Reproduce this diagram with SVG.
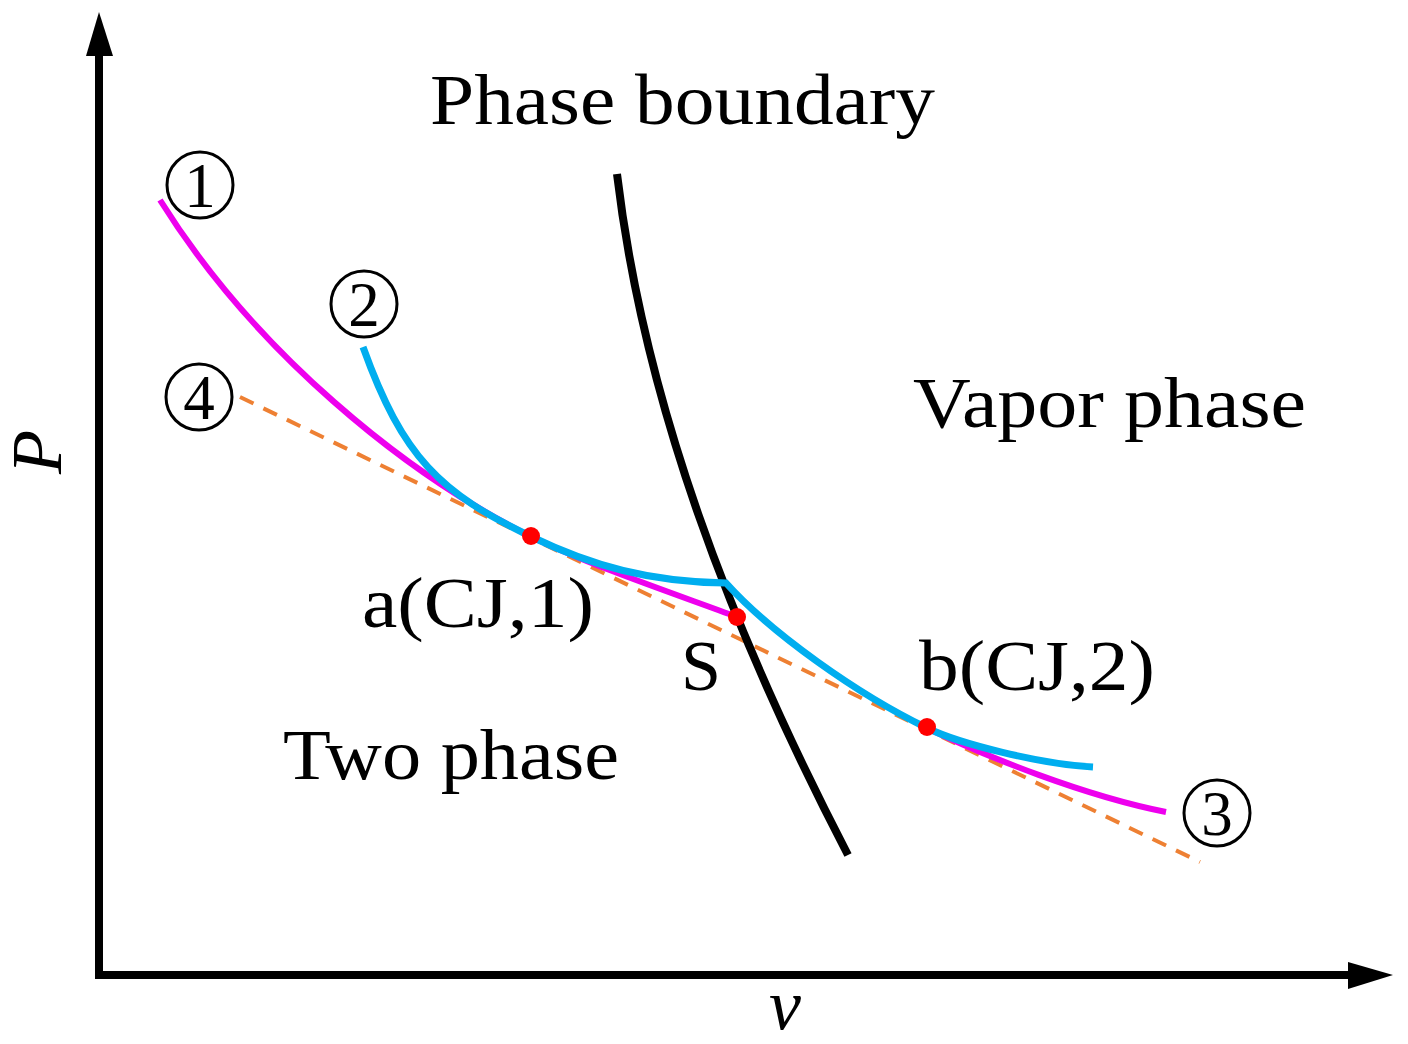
<svg xmlns="http://www.w3.org/2000/svg" width="1408" height="1044" viewBox="0 0 1408 1044">
<style>
.lbl{font-family:"Liberation Serif","Times New Roman",serif;font-size:72px;fill:#000}
.num{font-family:"Liberation Serif","Times New Roman",serif;font-size:63px;fill:#000;text-anchor:middle}
.circ{fill:none;stroke:#000;stroke-width:3}
.curve{fill:none;stroke-linecap:butt;stroke-linejoin:miter}
.mag{stroke:#EE00EE;stroke-width:6}
.cyan{stroke:#00AEEF;stroke-width:7}
.dot{fill:#FF0000}
</style>
<rect width="1408" height="1044" fill="#fff"/>
<g id="axes">
<line x1="99" y1="979" x2="99" y2="54" stroke="#000" stroke-width="8"/>
<polygon points="99,12 86,56 113,56" fill="#000"/>
<line x1="95" y1="975" x2="1350" y2="975" stroke="#000" stroke-width="8"/>
<polygon points="1393,975 1348,962 1348,989" fill="#000"/>
<text class="lbl" font-style="italic" font-size="66" text-anchor="middle" transform="translate(61,452) rotate(-90)">P</text>
<text class="lbl" font-style="italic" font-size="68" text-anchor="middle" x="785" y="1029">v</text>
</g>
<g id="connectors">
<line id="rayleigh" x1="240" y1="397" x2="1200" y2="862" stroke="#EE8033" stroke-width="4" stroke-dasharray="15 11" fill="none"/>
<path id="boundary" class="curve" d="M617,174 C644,401 730,628 848,855" stroke="#000" stroke-width="8"/>
<path id="curve1a" class="curve mag" d="M160,200 C255,352 405,474 532,537 C592,566 675,594 737,617"/>
<path id="curve1b" class="curve mag" d="M927,728 C987,757 1085,796 1166,812"/>
<path id="curve2" class="curve cyan" d="M363,347 C403,458 440,493 532,537 C592,566 650,582 726,583 C771,633 857,694 927,728 C960,744 1040,764 1093,767"/>
</g>
<g id="points">
<circle class="dot" cx="531" cy="536" r="9"/>
<circle class="dot" cx="737" cy="617" r="9"/>
<circle class="dot" cx="927" cy="727" r="9"/>
</g>
<g id="labels">
<text class="lbl" x="430" y="124" textLength="505" lengthAdjust="spacingAndGlyphs">Phase boundary</text>
<text class="lbl" x="913" y="427" textLength="393" lengthAdjust="spacingAndGlyphs">Vapor phase</text>
<text class="lbl" x="283" y="779" textLength="336" lengthAdjust="spacingAndGlyphs">Two phase</text>
<text class="lbl" x="362" y="627" textLength="232" lengthAdjust="spacingAndGlyphs">a(CJ,1)</text>
<text class="lbl" x="681" y="690">S</text>
<text class="lbl" x="919" y="690" textLength="236" lengthAdjust="spacingAndGlyphs">b(CJ,2)</text>
</g>
<g id="n1"><circle class="circ" cx="200" cy="185" r="33"/><text class="num" x="200" y="207">1</text></g>
<g id="n2"><circle class="circ" cx="364" cy="304" r="33"/><text class="num" x="364" y="326">2</text></g>
<g id="n3"><circle class="circ" cx="1217" cy="813" r="33"/><text class="num" x="1217" y="835">3</text></g>
<g id="n4"><circle class="circ" cx="199" cy="397" r="33"/><text class="num" x="199" y="419">4</text></g>
</svg>
